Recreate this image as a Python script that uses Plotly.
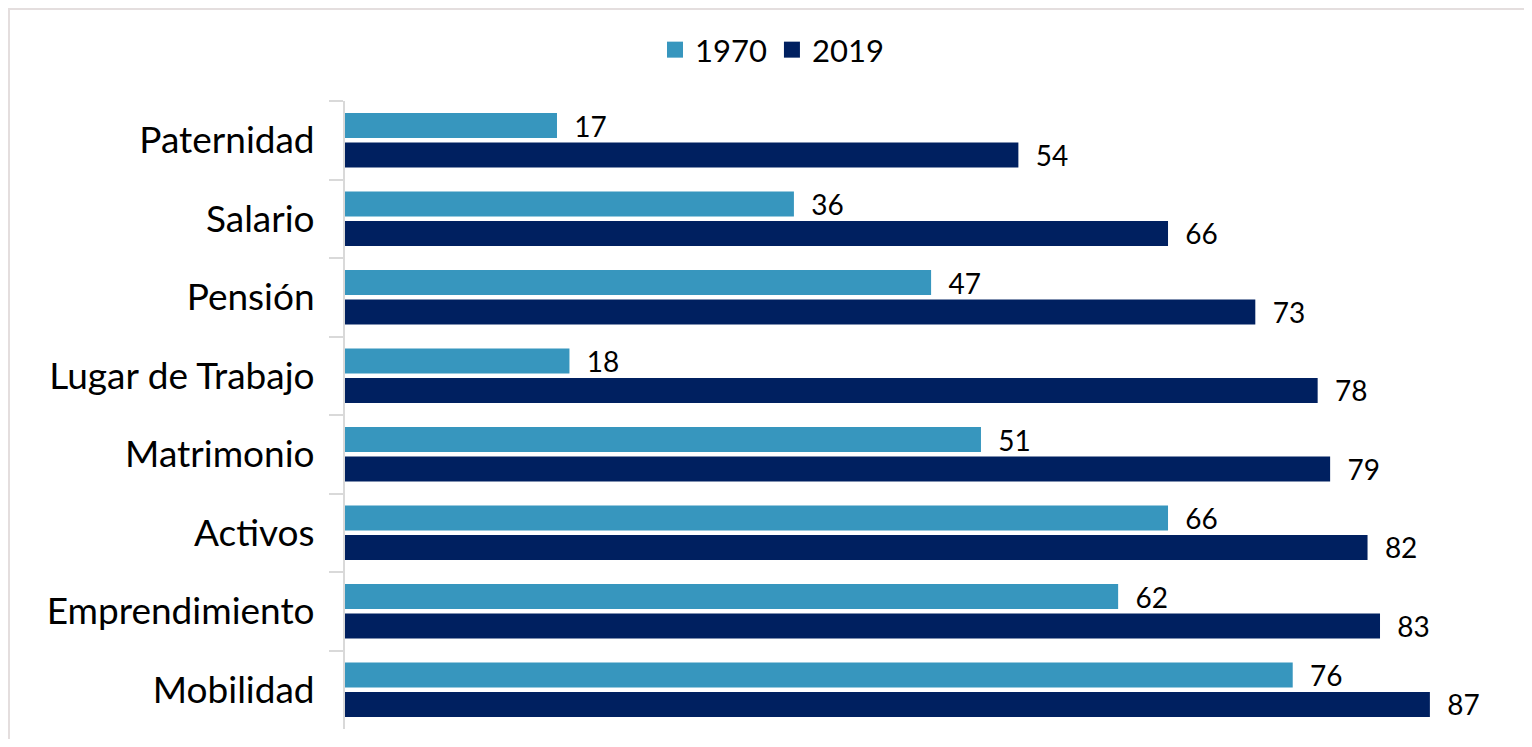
import plotly.graph_objects as go

categories = ["Paternidad", "Salario", "Pensión", "Lugar de Trabajo",
              "Matrimonio", "Activos", "Emprendimiento", "Mobilidad"]
values_1970 = [17, 36, 47, 18, 51, 66, 62, 76]
values_2019 = [54, 66, 73, 78, 79, 82, 83, 87]
series_names = ["1970", "2019"]
colors = ["#3796BE", "#002060"]

OFF = 8  # page body margin
W, H = 1532 - 2 * OFF, 747 - 2 * OFF
L, R, T, B = 345 - OFF, 1492 - OFF, 101 - OFF, 729 - OFF
pw, ph = R - L, B - T

FONT = "Lato"

fig = go.Figure()
for name, vals, col in zip(series_names, [values_1970, values_2019], colors):
    fig.add_trace(go.Bar(
        y=categories, x=vals, orientation="h", name=name,
        marker=dict(color=col, line=dict(width=0)),
        text=vals, texttemplate="  %{x}", textposition="outside",
        constraintext="none",
        textfont=dict(family=FONT, size=28, color="#000000"),
        cliponaxis=False, showlegend=False,
    ))
# legend proxies with large square symbols
for name, col in zip(series_names, colors):
    fig.add_trace(go.Scatter(
        x=[None], y=[None], mode="markers", name=name,
        marker=dict(symbol="square", size=20, color=col),
        showlegend=True,
    ))

fig.update_layout(
    width=W, height=H,
    margin=dict(l=L, r=W - R, t=T, b=H - B, pad=0),
    paper_bgcolor="white", plot_bgcolor="white",
    barmode="group", bargap=0.25, bargroupgap=0.15,
    font=dict(family=FONT, color="#000000"),
    legend=dict(orientation="h", x=(772 - OFF - L) / pw, xanchor="center",
                y=1 + (T - (50 - OFF)) / ph, yanchor="middle",
                font=dict(family=FONT, size=31, color="#000000"),
                itemsizing="trace", traceorder="normal"),
    xaxis=dict(range=[0, (R - L) / 12.47], visible=False, showgrid=False,
               zeroline=False),
    yaxis=dict(autorange="reversed", showline=True, linecolor="#D9D9D9",
               linewidth=2, ticks="outside", tickson="boundaries",
               ticklen=14, tickcolor="#D9D9D9", tickwidth=2,
               showgrid=False, ticklabelstandoff=21,
               tickfont=dict(family=FONT, size=37, color="#000000")),
    shapes=[dict(type="rect", xref="paper", yref="paper",
                 x0=(1 - L) / pw, x1=(1529 - OFF - L) / pw,
                 y0=(B - 760) / ph, y1=1 + (T - 1) / ph,
                 line=dict(color="#E4DEDE", width=2), fillcolor="rgba(0,0,0,0)",
                 layer="below")],
)

fig.write_html("out.html")
